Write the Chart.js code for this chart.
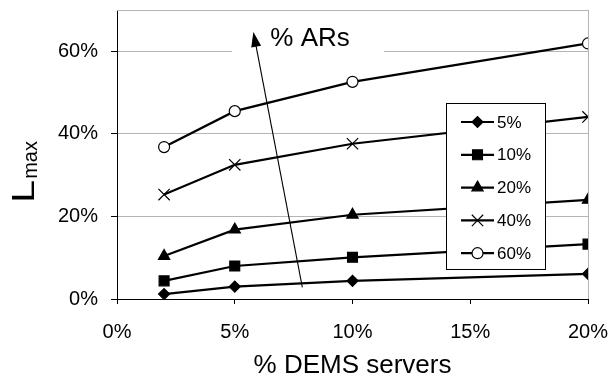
<!DOCTYPE html>
<html>
<head>
<meta charset="utf-8">
<script src="https://cdn.jsdelivr.net/npm/chart.js@4/dist/chart.umd.min.js"></script>
<style>
  html, body { margin: 0; padding: 0; background: #fff; }
  #wrap { width: 613px; height: 377px; }
</style>
</head>
<body>
<div id="wrap"><canvas id="lmaxChart" width="613" height="377"></canvas></div>
<script>
/* ================= DATA ================= */
const demsServers = [2, 5, 10, 20];          // % DEMS servers (x)
const arLabels = ["5%", "10%", "20%", "40%", "60%"];
const lmax5 = [1.2, 3.0, 4.4, 6.1];
const lmax10 = [4.4, 8.0, 10.1, 13.3];
const lmax20 = [10.4, 16.8, 20.4, 24.0];
const lmax40 = [25.3, 32.5, 37.6, 44.1];
const lmax60 = [36.8, 45.5, 52.6, 61.9];
const xTicks = [0, 5, 10, 15, 20];
const yTicks = [0, 20, 40, 60];
const yMax = 70;

// annotation arrow "% ARs" (data units)
const arrowFrom = { x: 7.87, y: 2.8 };
const arrowTo = { x: 5.79, y: 64.7 };
const arrowText = "% ARs";

const FONT = "'Liberation Sans', Arial, sans-serif";

/* ================= DATASETS ================= */
const seriesValues = [lmax5, lmax10, lmax20, lmax40, lmax60];
const markerStyles = [
  { pointStyle: "rectRot", radius: 5.5, fill: "#000" },
  { pointStyle: "rect", radius: 7, fill: "#000" },
  { pointStyle: "triangle", radius: 6.5, fill: "#000" },
  { pointStyle: "crossRot", radius: 8, fill: "#000" },
  { pointStyle: "circle", radius: 5.5, fill: "#fff" }
];

const datasets = seriesValues.map((vals, i) => ({
  label: arLabels[i],
  data: vals.map((v, j) => ({ x: demsServers[j], y: v })),
  showLine: true,
  borderColor: "#000",
  borderWidth: 2.2,
  pointStyle: markerStyles[i].pointStyle,
  pointRadius: markerStyles[i].radius,
  pointBackgroundColor: markerStyles[i].fill,
  pointBorderColor: "#000",
  pointBorderWidth: 1.2
}));

/* ================= EXTRAS PLUGIN ================= */
const extrasPlugin = {
  id: "extras",
  beforeDatasetsDraw(chart) {
    const { ctx, chartArea: a, scales } = chart;
    ctx.save();
    // top frame line
    ctx.strokeStyle = "#b4b4b4";
    ctx.lineWidth = 1;
    ctx.beginPath();
    ctx.moveTo(a.left, a.top + 0.5);
    ctx.lineTo(a.right, a.top + 0.5);
    ctx.stroke();

    // white box behind arrow label
    ctx.font = "26px " + FONT;
    const tx = scales.x.getPixelForValue(arrowTo.x) + 17;
    const ty = scales.y.getPixelForValue(arrowTo.y) + 14;
    ctx.fillStyle = "#fff";
    ctx.fillRect(232, ty - 26, 152, 34);
    ctx.fillStyle = "#000";
    ctx.textAlign = "left";
    ctx.textBaseline = "alphabetic";
    ctx.fillText(arrowText, tx, ty);
    ctx.restore();
  },
  afterDatasetsDraw(chart) {
    const { ctx, scales } = chart;
    ctx.save();
    // arrow
    const x1 = scales.x.getPixelForValue(arrowFrom.x);
    const y1 = scales.y.getPixelForValue(arrowFrom.y);
    const x2 = scales.x.getPixelForValue(arrowTo.x);
    const y2 = scales.y.getPixelForValue(arrowTo.y);
    const ang = Math.atan2(y2 - y1, x2 - x1);
    const headLen = 15, headW = 5;
    ctx.strokeStyle = "#000";
    ctx.lineWidth = 1.1;
    ctx.beginPath();
    ctx.moveTo(x1, y1);
    ctx.lineTo(x2 - Math.cos(ang) * headLen * 0.8, y2 - Math.sin(ang) * headLen * 0.8);
    ctx.stroke();
    ctx.fillStyle = "#000";
    ctx.beginPath();
    ctx.moveTo(x2, y2);
    ctx.lineTo(x2 - Math.cos(ang) * headLen - Math.sin(ang) * headW,
               y2 - Math.sin(ang) * headLen + Math.cos(ang) * headW);
    ctx.lineTo(x2 - Math.cos(ang) * headLen + Math.sin(ang) * headW,
               y2 - Math.sin(ang) * headLen - Math.cos(ang) * headW);
    ctx.closePath();
    ctx.fill();

    // legend box
    const box = { x: 446, y: 103, w: 99, h: 166 };
    ctx.fillStyle = "#fff";
    ctx.fillRect(box.x, box.y, box.w, box.h);
    ctx.strokeStyle = "#000";
    ctx.lineWidth = 1;
    ctx.strokeRect(box.x + 0.5, box.y + 0.5, box.w, box.h);
    ctx.font = "17px " + FONT;
    ctx.textBaseline = "middle";
    ctx.textAlign = "left";
    chart.data.datasets.forEach((ds, i) => {
      const ry = box.y + 19 + i * 32.8;
      ctx.strokeStyle = "#000";
      ctx.lineWidth = 2.2;
      ctx.beginPath();
      ctx.moveTo(461, ry);
      ctx.lineTo(494, ry);
      ctx.stroke();
      ctx.fillStyle = ds.pointBackgroundColor;
      ctx.strokeStyle = "#000";
      ctx.lineWidth = ds.pointBorderWidth;
      Chart.helpers.drawPoint(ctx, {
        pointStyle: ds.pointStyle,
        radius: ds.pointRadius,
        rotation: 0,
        borderWidth: ds.pointBorderWidth
      }, 477.5, ry);
      ctx.fillStyle = "#000";
      ctx.fillText(ds.label, 497, ry + 1);
    });

    ctx.restore();
  },
  afterDraw(chart) {
    const { ctx, chartArea: a } = chart;
    ctx.save();
    ctx.fillStyle = "#000";
    // x axis title
    ctx.font = "26px " + FONT;
    ctx.textAlign = "center";
    ctx.textBaseline = "middle";
    ctx.fillText("% DEMS servers", (a.left + a.right) / 2, 366);

    // y axis title: L with subscript max
    ctx.translate(34, 203);
    ctx.rotate(-Math.PI / 2);
    ctx.textAlign = "left";
    ctx.textBaseline = "alphabetic";
    ctx.save();
    ctx.scale(1.3, 1);
    ctx.font = "32px " + FONT;
    ctx.fillText("L", 0, 0);
    const lw = ctx.measureText("L").width * 1.3;
    ctx.restore();
    ctx.font = "20px " + FONT;
    ctx.fillText("max", lw + 1, 3);
    ctx.restore();
  }
};

/* ================= CHART ================= */
new Chart(document.getElementById("lmaxChart"), {
  type: "scatter",
  data: { datasets },
  options: {
    responsive: false,
    animation: false,
    devicePixelRatio: 1,
    events: [],
    layout: { padding: { top: 10, right: 25, left: 0, bottom: 0 } },
    plugins: {
      legend: { display: false },
      tooltip: { enabled: false }
    },
    scales: {
      x: {
        type: "linear",
        min: 0,
        max: 20,
        afterBuildTicks: s => { s.ticks = xTicks.map(v => ({ value: v })); },
        afterFit: s => {
          s.height = 78;
          s.paddingLeft = 0;
          s.paddingRight = 0;
        },
        border: { color: "#000", width: 1 },
        grid: {
          drawOnChartArea: true,
          color: c => (c.tick && c.tick.value === 20 ? "#b4b4b4" : "rgba(0,0,0,0)"),
          tickColor: "#000",
          tickLength: 5
        },
        ticks: {
          color: "#000",
          font: { family: FONT, size: 20 },
          padding: 16,
          maxRotation: 0,
          callback: v => v + "%"
        }
      },
      y: {
        type: "linear",
        min: 0,
        max: yMax,
        afterBuildTicks: s => { s.ticks = yTicks.map(v => ({ value: v })); },
        afterFit: s => {
          s.width = 117;
          s.paddingTop = 0;
          s.paddingBottom = 0;
        },
        border: { color: "#000", width: 1 },
        grid: {
          color: c => (c.tick && c.tick.value === 0 ? "rgba(0,0,0,0)" : "#b4b4b4"),
          tickColor: "#000",
          tickLength: 6
        },
        ticks: {
          color: "#000",
          font: { family: FONT, size: 20 },
          padding: 13,
          callback: v => v + "%"
        }
      }
    }
  },
  plugins: [extrasPlugin]
});
</script>
</body>
</html>
